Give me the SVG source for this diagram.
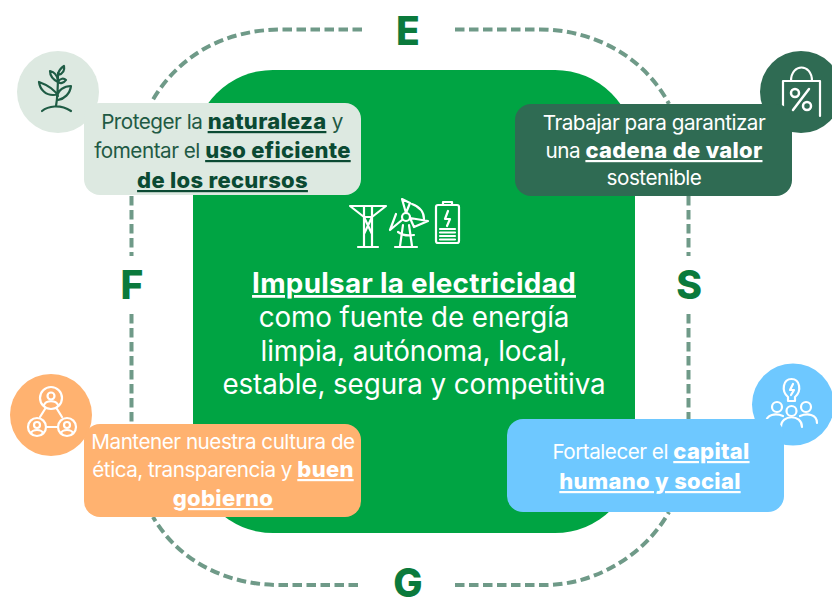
<svg xmlns="http://www.w3.org/2000/svg" width="832" height="601" viewBox="0 0 832 601">
<style>
text{font-family:"Inter","Liberation Sans",sans-serif;text-anchor:middle}
.t{font-size:20.7px;letter-spacing:-.5px}
.c{font-size:27.8px;fill:#fff;letter-spacing:-.1px}
.b{font-weight:800;font-size:22px;letter-spacing:.3px;text-decoration:underline}
.m{font-weight:700;font-size:27.8px;letter-spacing:.3px;text-decoration:underline}
.l{font-size:39px;font-weight:800;fill:#0b7a3c}
.d{fill:none;stroke:#6f9a88;stroke-width:4;stroke-dasharray:9.5 4.500}
.i{fill:none;stroke:#fff;stroke-width:2.200;stroke-linecap:round;stroke-linejoin:round}
.n{stroke-width:2.500}
.i2{fill:none;stroke:#1f5c45;stroke-width:2.200;stroke-linecap:round;stroke-linejoin:round}
</style>
<rect width="832" height="601" fill="#fff"/>
<g id="connectors">
<path class="d" d="M362 29.500H282C225 29.500 178 55 151 103"/>
<path class="d" d="M455 29.500H540C595 29.500 645 58 669 104"/>
<path class="d" d="M131.500 196V256"/>
<path class="d" d="M131.500 314V425"/>
<path class="d" d="M688.500 196V256"/>
<path class="d" d="M688.500 314V420"/>
<path class="d" d="M358 585H280C225 585 178 560 153 517"/>
<path class="d" d="M455 585H545C595 585 645 555 669 512"/>
</g>
<g id="center">
<rect x="193" y="70" width="442" height="463" rx="80" fill="#00a443"/>
<g class="i">
<path d="M350 206H386L372 217H364ZM364 206V246M372 206V246M364 217L372 234M372 217L364 234M358 247H378"/>
<circle cx="406" cy="217" r="4"/><path d="M406 213L402 199L410 203ZM410 218L428 221L414 227ZM402 220L390 230L396 214M403 225L400 246M409 225L412 246M395 247H417M412 204C420 207 424 212 424 219M398 232C402 235 408 236 414 235"/>
<rect x="436" y="205" width="23" height="38" rx="2"/><path d="M443 205V202H452V205M448 211L445 219H450L447 226M440 229H455M440 232.500H455M440 236H455M440 239.500H455"/>
</g>
<text class="c" x="414" y="293"><tspan class="m">Impulsar la electricidad</tspan></text>
<text class="c" x="414" y="327">como fuente de energía</text>
<text class="c" x="414" y="361">limpia, autónoma, local,</text>
<text class="c" x="414" y="394">estable, segura y competitiva</text>
</g>
<g id="letter-e"><text class="l" x="408" y="45">E</text></g>
<g id="letter-f"><text class="l" x="132" y="299">F</text></g>
<g id="letter-s"><text class="l" x="689" y="299">S</text></g>
<g id="letter-g"><text class="l" x="408" y="597">G</text></g>
<g id="node-environment">
<circle cx="58" cy="92" r="41" fill="#dde9e1"/>
<g class="i2">
<path d="M42 111C48 106 60 104 71 111M56 106C58 95 58 82 58 73M58 96C55 90 50 86 39 82C40 90 46 95 53 95C56 95 58 94 58 94M58 100C64 99 70 94 71 86C64 86 58 90 57 97"/>
<path d="M58 82C54 80 50 76 50 71C54 72 57 75 58 80M58 74C59 70 61 68 64 66C65 71 62 74 58 75M58 82C60 78 64 78 66 80C64 83 60 84 58 82"/>
</g>
<rect x="84" y="103" width="277" height="92" rx="16" fill="#dde9e1"/>
<text class="t" x="222" y="129" fill="#1f5a44">Proteger la <tspan class="b" fill="#0b4a33">naturaleza</tspan> y</text>
<text class="t" x="222.500" y="158" fill="#1f5a44">fomentar el <tspan class="b" fill="#0b4a33">uso eficiente</tspan></text>
<text class="t" x="222.500" y="188" fill="#0b4a33"><tspan class="b">de los recursos</tspan></text>
</g>
<g id="node-social-value">
<circle cx="801" cy="92" r="41" fill="#2f6b53"/>
<g class="i"><path d="M783 116V81H820V116M791 81C791 63 812 63 812 81"/><path class="n" d="M809 89L793 110"/><circle class="n" cx="795" cy="93" r="4"/><circle class="n" cx="807" cy="106" r="4"/></g>
<rect x="515" y="104" width="277" height="92" rx="16" fill="#2f6b53"/>
<text class="t" x="654" y="130" fill="#fff">Trabajar para garantizar</text>
<text class="t" x="654" y="158" fill="#fff">una <tspan class="b">cadena de valor</tspan></text>
<text class="t" x="654" y="185" fill="#fff">sostenible</text>
</g>
<g id="node-governance">
<circle cx="51" cy="415" r="41" fill="#ffb270"/>
<g class="i">
<circle cx="51" cy="398" r="11"/><circle cx="51" cy="396" r="3.500"/><path d="M44 405C46 400 56 400 58 405"/>
<circle cx="37" cy="427" r="9"/><circle cx="37" cy="425" r="3"/><path d="M31 433C33 429 41 429 43 433"/>
<circle cx="67" cy="427" r="9"/><circle cx="67" cy="425" r="3"/><path d="M61 433C63 429 71 429 73 433"/>
<path d="M45 409L40 417M57 409L62 417M47 427H57"/>
</g>
<rect x="84" y="424" width="277" height="93" rx="16" fill="#ffb270"/>
<text class="t" x="223" y="449" fill="#fff">Mantener nuestra cultura de</text>
<text class="t" x="223" y="477" fill="#fff">ética, transparencia y <tspan class="b">buen</tspan></text>
<text class="t" x="223" y="506" fill="#fff"><tspan class="b">gobierno</tspan></text>
</g>
<g id="node-human-capital">
<circle cx="793" cy="404.500" r="41" fill="#6ec8ff"/>
<g class="i">
<path d="M788 397C781 391 783 379 791.500 379C800 379 802 391 795 397V401H788Z"/><path d="M793 384L790 390H794L791 395"/>
<circle cx="777" cy="407" r="5"/><circle cx="791.500" cy="411" r="5"/><circle cx="806" cy="407" r="5"/>
<path d="M766 423C766 414 776 413 783 416M817 423C817 414 807 413 800 416M781 427C781 414 802 414 802 427"/>
</g>
<rect x="507" y="419" width="277" height="93" rx="16" fill="#6ec8ff"/>
<text class="t" x="651" y="459" fill="#fff">Fortalecer el <tspan class="b">capital</tspan></text>
<text class="t" x="650" y="489" fill="#fff"><tspan class="b">humano y social</tspan></text>
</g>
</svg>
